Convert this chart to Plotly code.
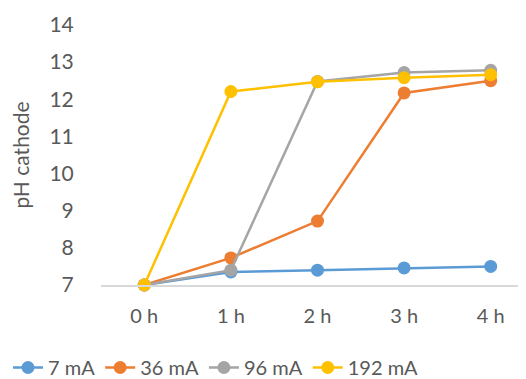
import plotly.graph_objects as go

categories = ["0 h", "1 h", "2 h", "3 h", "4 h"]
series_names = ["7 mA", "36 mA", "96 mA", "192 mA"]
ph_7mA = [7.0, 7.35, 7.40, 7.46, 7.50]
ph_36mA = [7.0, 7.73, 8.72, 12.17, 12.50]
ph_96mA = [7.0, 7.40, 12.48, 12.72, 12.78]
ph_192mA = [7.0, 12.21, 12.47, 12.58, 12.66]
y_ticks = [7, 8, 9, 10, 11, 12, 13, 14]

colors = ["#5B9BD5", "#ED7D31", "#A5A5A5", "#FFC000"]
values = [ph_7mA, ph_36mA, ph_96mA, ph_192mA]

fig = go.Figure()
for name, vals, c in zip(series_names, values, colors):
    fig.add_trace(go.Scatter(
        x=categories, y=vals, name=name, mode="lines+markers",
        line=dict(color=c, width=2.5),
        marker=dict(color=c, size=13),
        cliponaxis=False,
    ))

font_color = "#595959"
fig.update_layout(
    width=526, height=379,
    margin=dict(l=93, r=0, t=17, b=102, autoexpand=False),
    paper_bgcolor="white", plot_bgcolor="white",
    font=dict(family="Lato, Open Sans, sans-serif", size=20, color=font_color),
    showlegend=True,
    legend=dict(
        orientation="h", xref="container", yref="container",
        x=0.0, xanchor="left", y=0.0, yanchor="bottom",
        font=dict(size=20, color=font_color),
        itemwidth=30, tracegroupgap=0,
    ),
    xaxis=dict(
        type="category", range=[-0.5, 4.5],
        showgrid=False, showline=True, linecolor="#D9D9D9", linewidth=1.5,
        ticks="outside", ticklen=12, tickcolor="rgba(0,0,0,0)",
        tickfont=dict(size=20, color=font_color), zeroline=False,
    ),
    yaxis=dict(
        range=[7, 14], tickvals=y_ticks, showgrid=False, showline=False,
        zeroline=False,
        ticks="outside", ticklen=22, tickcolor="rgba(0,0,0,0)",
        tickfont=dict(size=21, color=font_color),
        title=dict(text="pH cathode", font=dict(size=21, color=font_color), standoff=14),
    ),
)

fig.write_html("out.html")
